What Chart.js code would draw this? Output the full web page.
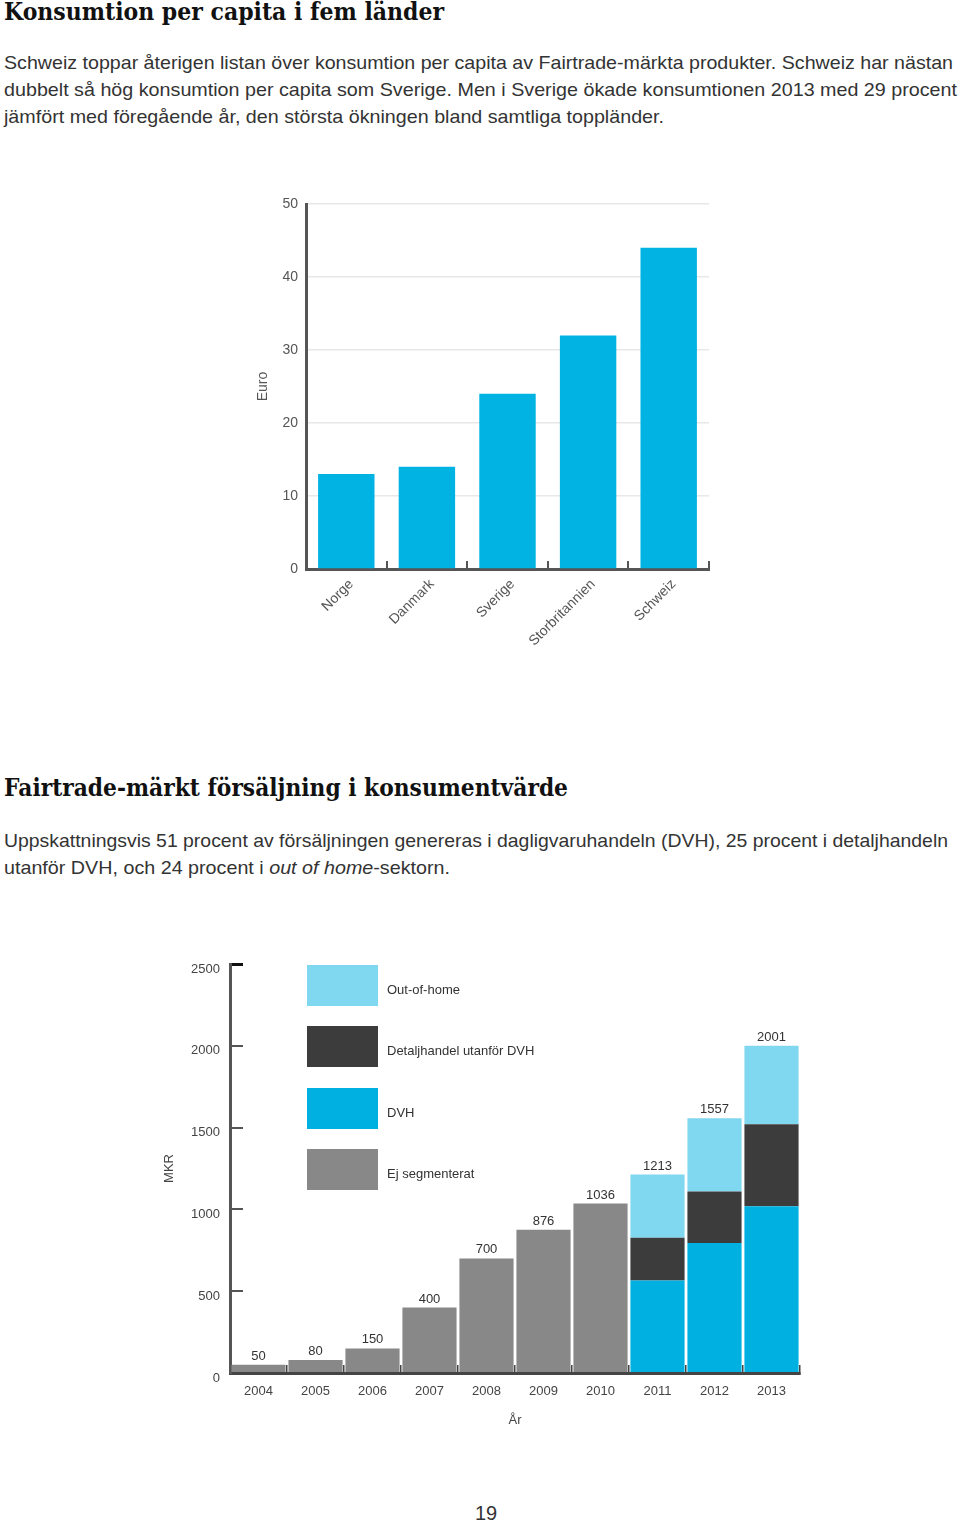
<!DOCTYPE html>
<html><head><meta charset="utf-8">
<script src="https://cdn.jsdelivr.net/npm/chart.js@4/dist/chart.umd.min.js"></script>
<style>
html,body{margin:0;padding:0;background:#fff;}
body{width:960px;height:1524px;position:relative;overflow:hidden;font-family:"Liberation Sans",Arial,sans-serif;color:#333;}
.t{position:absolute;white-space:nowrap;transform-origin:0 50%;}
.h{font-family:"DejaVu Serif",serif;font-weight:bold;font-size:24px;line-height:30px;color:#111;}
.p{font-size:19px;line-height:27px;color:#333;}
.box{position:absolute;}
.lg-sw{position:absolute;}
.lg-tx{position:absolute;font-size:13px;line-height:16px;color:#333;white-space:nowrap;}
</style></head><body>
<div class="t h" style="left:4px;top:-3px" data-w="440">Konsumtion per capita i fem länder</div>
<div class="t p" style="left:4px;top:48.5px" data-w="949">Schweiz toppar återigen listan över konsumtion per capita av Fairtrade-märkta produkter. Schweiz har nästan</div>
<div class="t p" style="left:4px;top:75.5px" data-w="953">dubbelt så hög konsumtion per capita som Sverige. Men i Sverige ökade konsumtionen 2013 med 29 procent</div>
<div class="t p" style="left:4px;top:102.5px" data-w="660">jämfört med föregående år, den största ökningen bland samtliga toppländer.</div>

<div class="box" style="left:240px;top:190px;width:480px;height:470px"><canvas id="c1" width="480" height="470"></canvas></div>

<div class="t h" style="left:4px;top:773px" data-w="564">Fairtrade-märkt försäljning i konsumentvärde</div>
<div class="t p" style="left:4px;top:826.5px" data-w="944">Uppskattningsvis 51 procent av försäljningen genereras i dagligvaruhandeln (DVH), 25 procent i detaljhandeln</div>
<div class="t p" style="left:4px;top:853.5px" data-w="446">utanför DVH, och 24 procent i <i>out of home</i>-sektorn.</div>

<div class="box" style="left:150px;top:940px;width:680px;height:500px"><canvas id="c2" width="680" height="500"></canvas></div>
<div id="legend"></div>

<div class="t" style="left:475px;top:1501px;font-size:20px;line-height:24px;color:#333">19</div>

<script>
// ---- Chart 1 data ----
const countries = ['Norge', 'Danmark', 'Sverige', 'Storbritannien', 'Schweiz'];
const euroPerCapita = [13, 14, 24, 32, 44];
const euroTicks = [0, 10, 20, 30, 40, 50];

// ---- Chart 2 data ----
const years = ['2004', '2005', '2006', '2007', '2008', '2009', '2010', '2011', '2012', '2013'];
const ejSegmenterat = [50, 80, 150, 400, 700, 876, 1036, null, null, null];
const dvh = [null, null, null, null, null, null, null, 566, 794, 1020];
const detaljhandel = [null, null, null, null, null, null, null, 261, 315, 500];
const outOfHome = [null, null, null, null, null, null, null, 386, 448, 481];
const totals = [50, 80, 150, 400, 700, 876, 1036, 1213, 1557, 2001];
const mkrTicks = [0, 500, 1000, 1500, 2000, 2500];

const FONT = '"Liberation Sans", Arial, sans-serif';
const C_CYAN = '#00b3e3';
const C_DVH = '#00b0e0';
const C_OOH = '#80d7f0';
const C_DET = '#3c3c3c';
const C_EJ = '#888888';

// fit text lines to measured widths
document.querySelectorAll('[data-w]').forEach(el => {
  const w = el.getBoundingClientRect().width;
  if (w > 0) el.style.transform = 'scaleX(' + (parseFloat(el.dataset.w) / w) + ')';
});

Chart.defaults.font.family = FONT;

function noPadY(s) { s.paddingTop = 0; s.paddingBottom = 0; }
function noPadX(s) { s.paddingLeft = 0; s.paddingRight = 0; }

new Chart(document.getElementById('c1'), {
  type: 'bar',
  data: {
    labels: countries,
    datasets: [{ data: euroPerCapita, backgroundColor: C_CYAN, borderWidth: 0,
      categoryPercentage: 1, barPercentage: 0.7 }]
  },
  options: {
    responsive: false, animation: false, devicePixelRatio: 1,
    layout: { padding: { left: 0, right: 11, top: 14, bottom: 0 } },
    plugins: { legend: { display: false }, tooltip: { enabled: false } },
    scales: {
      x: {
        grid: { offset: true, drawOnChartArea: false, drawTicks: true, tickLength: -8, color: '#555', lineWidth: 2 },
        border: { display: true, color: '#555', width: 3 },
        ticks: { font: { size: 14 }, color: '#555', minRotation: 45, maxRotation: 45, autoSkip: false, padding: 15, labelOffset: 5 },
        afterFit(s) { s.height = 91; noPadX(s); }
      },
      y: {
        min: 0, max: 50,
        afterBuildTicks(s) { s.ticks = euroTicks.map(v => ({ value: v })); },
        ticks: { font: { size: 14 }, color: '#555', padding: 8, callback: (v, i) => String(euroTicks[i]) },
        grid: { color: '#e8e8e8', lineWidth: 1.5, drawTicks: false },
        border: { color: '#555', width: 3 },
        title: { display: true, text: 'Euro', font: { size: 14 }, color: '#555', padding: { top: 15, bottom: 0 } },
        afterFit(s) { s.width = 66; noPadY(s); }
      }
    }
  }
});

const totalLabels = {
  id: 'totalLabels',
  afterDatasetsDraw(chart) {
    const { ctx, scales: { x, y } } = chart;
    ctx.save();
    ctx.font = '13px ' + FONT;
    ctx.fillStyle = '#333';
    ctx.textAlign = 'center';
    ctx.textBaseline = 'alphabetic';
    totals.forEach((t, i) => {
      ctx.fillText(String(t), x.getPixelForValue(i), y.getPixelForValue(t) - 5);
    });
    ctx.restore();
  }
};

const ds = (label, data, color) => ({ label, data, backgroundColor: color, borderWidth: 0,
  categoryPercentage: 1, barPercentage: 0.95 });

const series2 = [
  ds('Ej segmenterat', ejSegmenterat, C_EJ),
  ds('DVH', dvh, C_DVH),
  ds('Detaljhandel utanför DVH', detaljhandel, C_DET),
  ds('Out-of-home', outOfHome, C_OOH)
];

new Chart(document.getElementById('c2'), {
  type: 'bar',
  data: { labels: years, datasets: series2 },
  plugins: [totalLabels],
  options: {
    responsive: false, animation: false, devicePixelRatio: 1,
    layout: { padding: { left: 0, right: 30, top: 24, bottom: 0 } },
    plugins: { legend: { display: false }, tooltip: { enabled: false } },
    scales: {
      x: {
        stacked: true,
        grid: { offset: true, drawOnChartArea: false, drawTicks: true, tickLength: -8, color: '#444', lineWidth: 1.5 },
        border: { display: true, color: '#444', width: 3 },
        ticks: { font: { size: 13 }, color: '#444', padding: 19, maxRotation: 0, autoSkip: false },
        title: { display: true, text: 'År', font: { size: 13 }, color: '#444', padding: { top: 0, bottom: 12 } },
        afterFit(s) { s.height = 67; noPadX(s); }
      },
      y: {
        stacked: true, min: 0, max: 2500,
        afterBuildTicks(s) { s.ticks = mkrTicks.map(v => ({ value: v })); },
        ticks: { font: { size: 13 }, color: '#444', padding: 23, labelOffset: 5, callback: (v, i) => String(mkrTicks[i]) },
        grid: { drawOnChartArea: false, drawTicks: true, tickLength: -13,
          color: c => (c.tick && c.tick.value === 2500 ? '#111' : '#555'),
          lineWidth: c => (c.tick && c.tick.value === 2500 ? 3 : 2) },
        border: { color: '#555', width: 3 },
        title: { display: true, text: 'MKR', font: { size: 13 }, color: '#444', padding: { top: 12, bottom: 0 } },
        afterFit(s) { s.width = 80; noPadY(s); }
      }
    }
  }
});

// custom legend (top to bottom, reversed stacking order)
const legendEl = document.getElementById('legend');
series2.slice().reverse().forEach((d, i) => {
  const top = 965 + i * 61.3;
  const sw = document.createElement('div');
  sw.className = 'lg-sw';
  sw.style.cssText = 'left:307px;top:' + top + 'px;width:71px;height:41px;background:' + d.backgroundColor;
  legendEl.appendChild(sw);
  const tx = document.createElement('div');
  tx.className = 'lg-tx';
  tx.style.cssText = 'left:387px;top:' + (top + 17) + 'px';
  tx.textContent = d.label;
  legendEl.appendChild(tx);
});
</script>
</body></html>
